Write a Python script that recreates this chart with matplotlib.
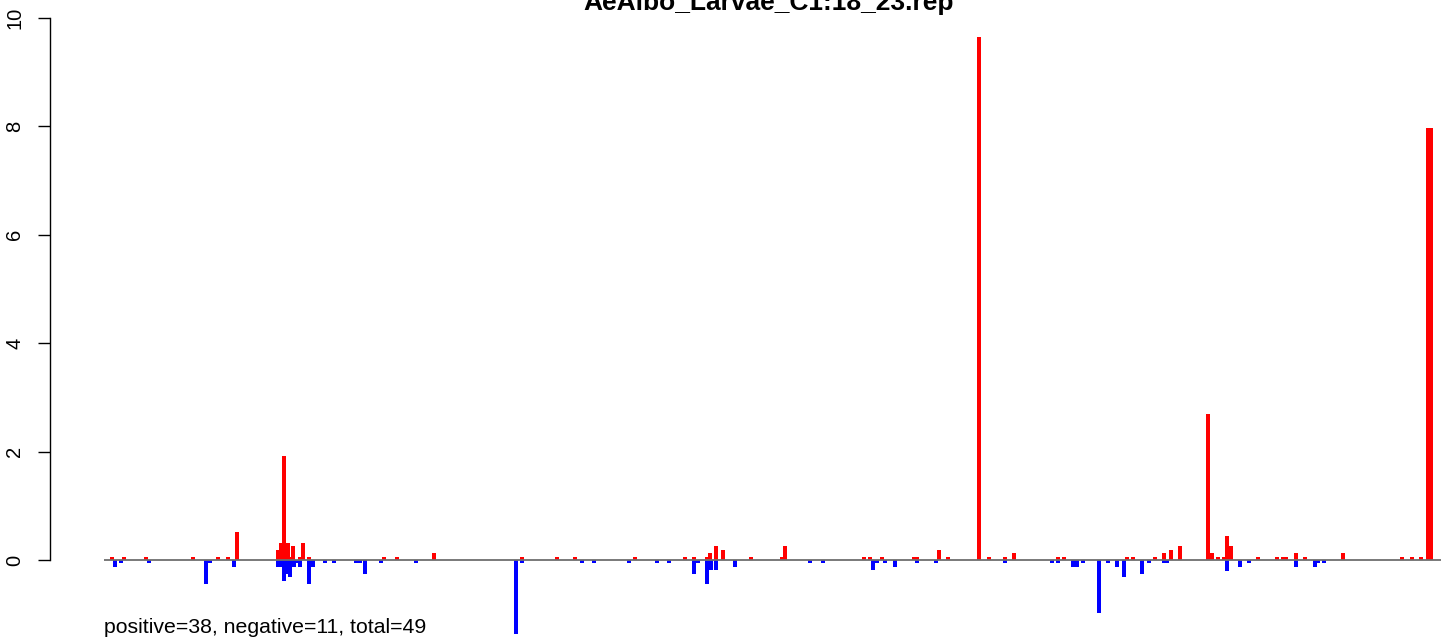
import matplotlib
matplotlib.use("Agg")
import matplotlib.pyplot as plt
import numpy as np

plt.rcParams['font.family'] = ['Liberation Sans', 'DejaVu Sans']

title = "AeAlbo_Larvae_C1:18_23.rep"
summary = "positive=38, negative=11, total=49"

# positions along the sequence (arbitrary units) and values
pos_x = [8, 20, 42, 89, 114, 124, 132.5, 173.5, 176.5, 180, 183.5, 186, 189, 195.5,
         199, 205, 280, 293, 330, 418, 453, 471, 531, 581, 590, 603, 606, 612, 619,
         647, 678, 681, 760, 766, 778, 809.5, 813, 835, 844, 875, 885, 901, 910, 954,
         960, 1023, 1029, 1051, 1060, 1067, 1076, 1104, 1107.5, 1114, 1119.5, 1123,
         1126.5, 1154, 1173, 1179, 1182, 1192, 1201, 1239, 1298, 1308, 1317, 1324, 1327]
pos_y = [0.06, 0.06, 0.06, 0.06, 0.06, 0.06, 0.51, 0.19, 0.32, 1.92, 0.32, 0.06,
         0.25, 0.06, 0.32, 0.06, 0.06, 0.06, 0.12, 0.06, 0.06, 0.06, 0.06, 0.06, 0.06,
         0.06, 0.12, 0.25, 0.19, 0.06, 0.06, 0.25, 0.06, 0.06, 0.06, 0.06, 0.06, 0.19,
         0.06, 9.65, 0.06, 0.06, 0.12, 0.06, 0.06, 0.06, 0.06, 0.06, 0.12, 0.19, 0.25,
         2.70, 0.12, 0.06, 0.06, 0.45, 0.25, 0.06, 0.06, 0.06, 0.06, 0.12, 0.06, 0.12,
         0.06, 0.06, 0.06, 7.97, 7.97]

neg_x = [11, 17, 45, 102, 105.5, 130, 173.5, 176.5, 180, 183, 186, 189.5, 192.5, 196,
         205, 208.5, 221, 230, 252, 255.5, 261, 277, 312, 412, 418, 478, 490, 525, 553,
         565, 590, 594, 603, 606.5, 612, 631, 706, 719, 769, 772.5, 781, 791, 813, 832,
         901, 948, 954, 969, 973, 979, 995, 1004, 1013, 1020, 1038, 1045, 1060, 1063,
         1123, 1136, 1145, 1192, 1211, 1214, 1220]
neg_y = [-0.135, -0.06, -0.06, -0.45, -0.06, -0.135, -0.135, -0.135, -0.39, -0.26,
         -0.32, -0.135, -0.06, -0.135, -0.45, -0.135, -0.06, -0.06, -0.06, -0.06, -0.26,
         -0.06, -0.06, -1.36, -0.06, -0.06, -0.06, -0.06, -0.06, -0.06, -0.26, -0.06,
         -0.45, -0.19, -0.19, -0.135, -0.06, -0.06, -0.19, -0.06, -0.06, -0.135, -0.06,
         -0.06, -0.06, -0.06, -0.06, -0.135, -0.135, -0.06, -0.97, -0.06, -0.135, -0.32,
         -0.26, -0.06, -0.06, -0.06, -0.20, -0.135, -0.06, -0.135, -0.135, -0.06, -0.06]

yticks = [0, 2, 4, 6, 8, 10]

W, H = 1441, 640
fig = plt.figure(figsize=(W / 100, H / 100), dpi=100)
left_px = 104
ax = fig.add_axes([left_px / W, 0, 1 - left_px / W, 1])
ax.set_xlim(0, W - left_px)
# y=0 at pixel 560, y=10 at pixel 18
ppu = (560 - 18) / 10.0
ax.set_ylim(-(H - 560) / ppu, 560 / ppu)

ax.bar(pos_x, pos_y, width=4, color='#ff0000', linewidth=0, zorder=2)
ax.bar(neg_x, neg_y, width=4, color='#0000ff', linewidth=0, zorder=2)
ax.axhline(0, color='#6e6e6e', linewidth=1.3, zorder=3)

for s in ['top', 'right', 'bottom']:
    ax.spines[s].set_visible(False)
ax.spines['left'].set_position(('outward', 54 * 0.72))
ax.spines['left'].set_bounds(0, 10)
ax.spines['left'].set_linewidth(1.0)
ax.set_xticks([])
ax.set_yticks(yticks)
ax.set_yticklabels([str(t) for t in yticks], rotation=90, va='center')
ax.tick_params(axis='y', length=9, width=1.0, pad=9.5, labelsize=14.5)
ax.patch.set_visible(False)

fig.text(769 / W, 1 - 10 / H, title, ha='center', va='baseline',
         fontsize=19, fontweight='bold')
fig.text(left_px / W, 1 - 633 / H, summary, ha='left', va='baseline', fontsize=15.3)

fig.savefig('out.png', dpi=100)
